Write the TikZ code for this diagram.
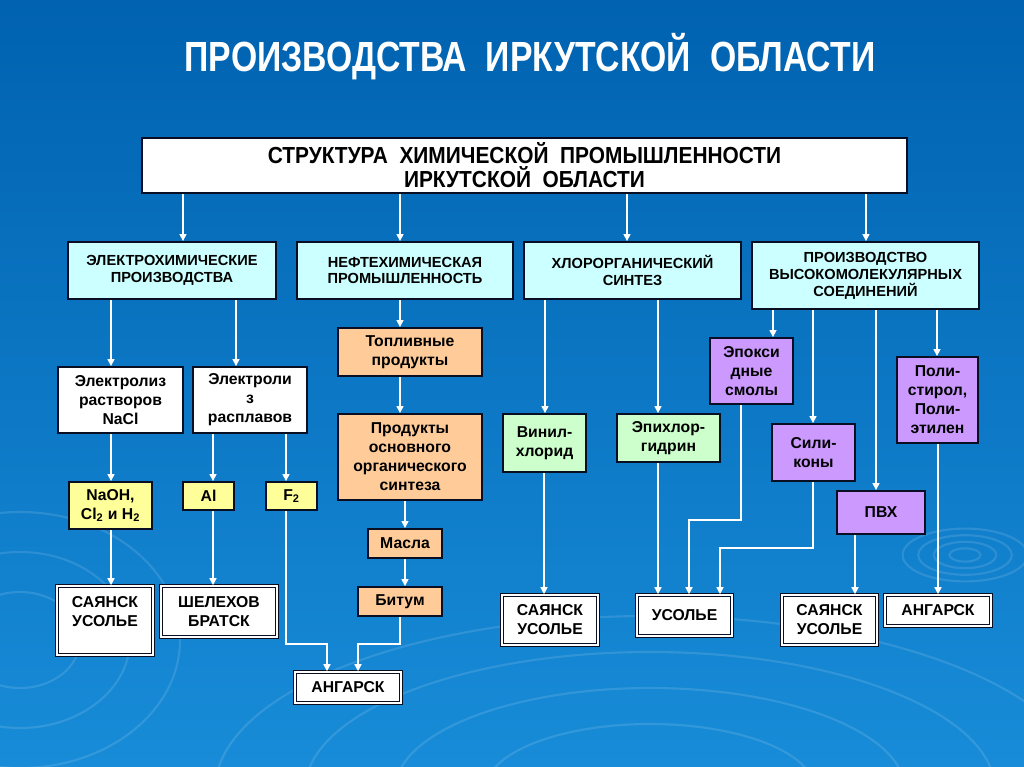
\documentclass[tikz,border=0pt]{standalone}
\usepackage{fontspec}
\setmainfont{Liberation Sans}
\newfontfamily\narrowfont[FakeStretch=0.8]{Liberation Sans}
\newfontfamily\boxfont[FakeStretch=0.9]{Liberation Sans}
\usepackage{tikz}
\usetikzlibrary{arrows.meta}
\definecolor{bgtop}{RGB}{0,98,176}
\definecolor{bgbottom}{RGB}{24,140,216}
\definecolor{catcolor}{RGB}{204,255,255}
\definecolor{fuelcolor}{RGB}{255,204,153}
\definecolor{metalcolor}{RGB}{255,255,153}
\definecolor{chlorcolor}{RGB}{204,255,204}
\definecolor{polycolor}{RGB}{204,153,255}
\definecolor{edgecolor}{RGB}{10,14,34}
\tikzset{
  chem box/.style={
    rectangle,
    draw=edgecolor,
    line width=1.3pt,
    inner sep=1pt,
    align=center,
    font=\fontsize{11.2}{13.5}\selectfont\bfseries
  },
  chem cat/.style={
    chem box,
    fill=catcolor,
    font=\fontsize{10.4}{12}\selectfont\bfseries
  },
  chem fuel/.style={chem box, fill=fuelcolor},
  chem metal/.style={chem box, fill=metalcolor},
  chem chlor/.style={chem box, fill=chlorcolor},
  chem poly/.style={chem box, fill=polycolor},
  chem proc/.style={chem box, fill=white},
  chem city/.style={
    chem box,
    fill=white,
    line width=1.1pt,
    double=white,
    double distance=1pt
  },
  flow/.style={
    draw=white,
    line width=1pt,
    -{Triangle[length=5pt,width=5pt]}
  },
  ripple/.style={white, opacity=0.12, line width=1.5pt}
}

\begin{document}
\begin{tikzpicture}[x=0.025cm, y=-0.025cm]
  % Background
  \shade[top color=bgtop, bottom color=bgbottom] (0,0) rectangle (1024,767);
  \useasboundingbox (0,0) rectangle (1024,767);
  \foreach \r in {12,24,36,48}
    \draw[ripple] (965,555) ellipse ({\r*1.3} and {\r*0.55});
  \foreach \r in {110,170,230,290}
    \draw[ripple] (650,790) ellipse ({\r*1.5} and {\r*0.6});
  \foreach \r in {60,110,160}
    \draw[ripple] (20,640) ellipse ({\r} and {\r*0.8});

  % Title
  \node[white, font=\narrowfont\fontsize{30}{34}\selectfont\bfseries] (title) at (530,57)
    {ПРОИЗВОДСТВА\ \ ИРКУТСКОЙ\ \ ОБЛАСТИ};

  % Main block
  \node[chem proc, minimum width=19.125cm, minimum height=1.375cm,
        font=\boxfont\fontsize{16.5}{17}\selectfont\bfseries] (main) at (524.5,165.5)
    {СТРУКТУРА\ \ ХИМИЧЕСКОЙ\ \ ПРОМЫШЛЕННОСТИ\\ИРКУТСКОЙ\ \ ОБЛАСТИ};

  % Branches
  \node[chem cat, minimum width=5.2cm, minimum height=1.425cm] (electro) at (172,270.5)
    {ЭЛЕКТРОХИМИЧЕСКИЕ\\ПРОИЗВОДСТВА};
  \node[chem cat, minimum width=5.4cm, minimum height=1.425cm] (petro) at (405,270.5)
    {НЕФТЕХИМИЧЕСКАЯ\\ПРОМЫШЛЕННОСТЬ};
  \node[chem cat, minimum width=5.425cm, minimum height=1.425cm] (chlor) at (632.5,270.5)
    {ХЛОРОРГАНИЧЕСКИЙ\\СИНТЕЗ};
  \node[chem cat, minimum width=5.675cm, minimum height=1.675cm] (polymer) at (865.5,275.5)
    {ПРОИЗВОДСТВО\\ВЫСОКОМОЛЕКУЛЯРНЫХ\\СОЕДИНЕНИЙ};

  \draw[flow] (183,0 |- main.south) -- (183,0 |- electro.north);
  \draw[flow] (400,0 |- main.south) -- (400,0 |- petro.north);
  \draw[flow] (627,0 |- main.south) -- (627,0 |- chlor.north);
  \draw[flow] (866,0 |- main.south) -- (866,0 |- polymer.north);

  % Electrochemistry
  \node[chem proc, minimum width=3.125cm, minimum height=1.65cm] (nacl) at (120.5,400)
    {Электролиз\\растворов\\NaCl};
  \node[chem proc, minimum width=2.85cm, minimum height=1.65cm] (melt) at (250,400)
    {Электроли\\з\\расплавов};
  \node[chem metal, minimum width=2.075cm, minimum height=1.175cm] (naoh) at (110.5,505.5)
    {NaOH,\\Cl\textsubscript{2} и H\textsubscript{2}};
  \node[chem metal, minimum width=1.275cm, minimum height=0.7cm] (alum) at (208.5,496) {Al};
  \node[chem metal, minimum width=1.275cm, minimum height=0.7cm] (fluor) at (291.5,496)
    {F\textsubscript{2}};
  \node[chem city, minimum width=2.4cm, minimum height=1.725cm] (sayan1) at (105,620.5)
    {САЯНСК\\УСОЛЬЕ\\ };
  \node[chem city, minimum width=2.9cm, minimum height=1.275cm] (shelekh) at (219,611.5)
    {ШЕЛЕХОВ\\БРАТСК};

  \draw[flow] (111,0 |- electro.south) -- (111,0 |- nacl.north);
  \draw[flow] (236,0 |- electro.south) -- (236,0 |- melt.north);
  \draw[flow] (111,0 |- nacl.south) -- (111,0 |- naoh.north);
  \draw[flow] (213,0 |- melt.south) -- (213,0 |- alum.north);
  \draw[flow] (286,0 |- melt.south) -- (286,0 |- fluor.north);
  \draw[flow] (111,0 |- naoh.south) -- (111,0 |- sayan1.north);
  \draw[flow] (213,0 |- alum.south) -- (213,0 |- shelekh.north);

  % Petrochemistry
  \node[chem fuel, minimum width=3.6cm, minimum height=1.2cm] (fuel) at (410,352)
    {Топливные\\продукты};
  \node[chem fuel, minimum width=3.6cm, minimum height=2.15cm] (orgsyn) at (410,457)
    {Продукты\\основного\\органического\\синтеза};
  \node[chem fuel, minimum width=1.85cm, minimum height=0.725cm] (oils) at (405,543.5) {Масла};
  \node[chem fuel, minimum width=2.1cm, minimum height=0.725cm] (bitum) at (400,601.5) {Битум};
  \node[chem city, minimum width=2.65cm, minimum height=0.775cm] (angarsk1) at (348,687.5)
    {АНГАРСК};

  \draw[flow] (400,0 |- petro.south) -- (400,0 |- fuel.north);
  \draw[flow] (400,0 |- fuel.south) -- (400,0 |- orgsyn.north);
  \draw[flow] (405,0 |- orgsyn.south) -- (405,0 |- oils.north);
  \draw[flow] (405,0 |- oils.south) -- (405,0 |- bitum.north);
  \draw[flow] (400,0 |- bitum.south) |- (358,644) -- (358,0 |- angarsk1.north);
  \draw[flow] (286,0 |- fluor.south) |- (327,644) -- (327,0 |- angarsk1.north);

  % Organochlorine synthesis
  \node[chem chlor, minimum width=2.075cm, minimum height=1.45cm] (vinyl) at (544.5,443)
    {Винил-\\хлорид};
  \node[chem chlor, minimum width=2.575cm, minimum height=1.2cm] (epichlor) at (668.5,438)
    {Эпихлор-\\гидрин};
  \node[chem city, minimum width=2.4cm, minimum height=1.25cm] (sayan2) at (550,620)
    {САЯНСК\\УСОЛЬЕ};
  \node[chem city, minimum width=2.375cm, minimum height=1.025cm] (usolye) at (684.5,615.5)
    {УСОЛЬЕ};

  \draw[flow] (545,0 |- chlor.south) -- (545,0 |- vinyl.north);
  \draw[flow] (658,0 |- chlor.south) -- (658,0 |- epichlor.north);
  \draw[flow] (544,0 |- vinyl.south) -- (544,0 |- sayan2.north);
  \draw[flow] (658,0 |- epichlor.south) -- (658,0 |- usolye.north);

  % High-molecular compounds
  \node[chem poly, minimum width=2.075cm, minimum height=1.65cm] (epoxy) at (751.5,371)
    {Эпокси\\дные\\смолы};
  \node[chem poly, minimum width=2.075cm, minimum height=1.425cm] (silicone) at (813.5,452.5)
    {Сили-\\коны};
  \node[chem poly, minimum width=2.2cm, minimum height=1.075cm] (pvc) at (881,512.5) {ПВХ};
  \node[chem poly, minimum width=2.025cm, minimum height=2.15cm] (polyst) at (937.5,400)
    {Поли-\\стирол,\\Поли-\\этилен};
  \node[chem city, minimum width=2.375cm, minimum height=1.25cm] (sayan3) at (829.5,620)
    {САЯНСК\\УСОЛЬЕ};
  \node[chem city, minimum width=2.65cm, minimum height=0.775cm] (angarsk2) at (938,610.5)
    {АНГАРСК};

  \draw[flow] (773,0 |- polymer.south) -- (773,0 |- epoxy.north);
  \draw[flow] (813,0 |- polymer.south) -- (813,0 |- silicone.north);
  \draw[flow] (876,0 |- polymer.south) -- (876,0 |- pvc.north);
  \draw[flow] (937,0 |- polymer.south) -- (937,0 |- polyst.north);
  \draw[flow] (741,0 |- epoxy.south) |- (689,520) -- (689,0 |- usolye.north);
  \draw[flow] (813,0 |- silicone.south) |- (720,548) -- (720,0 |- usolye.north);
  \draw[flow] (855,0 |- pvc.south) -- (855,0 |- sayan3.north);
  \draw[flow] (938,0 |- polyst.south) -- (938,0 |- angarsk2.north);
\end{tikzpicture}
\end{document}
